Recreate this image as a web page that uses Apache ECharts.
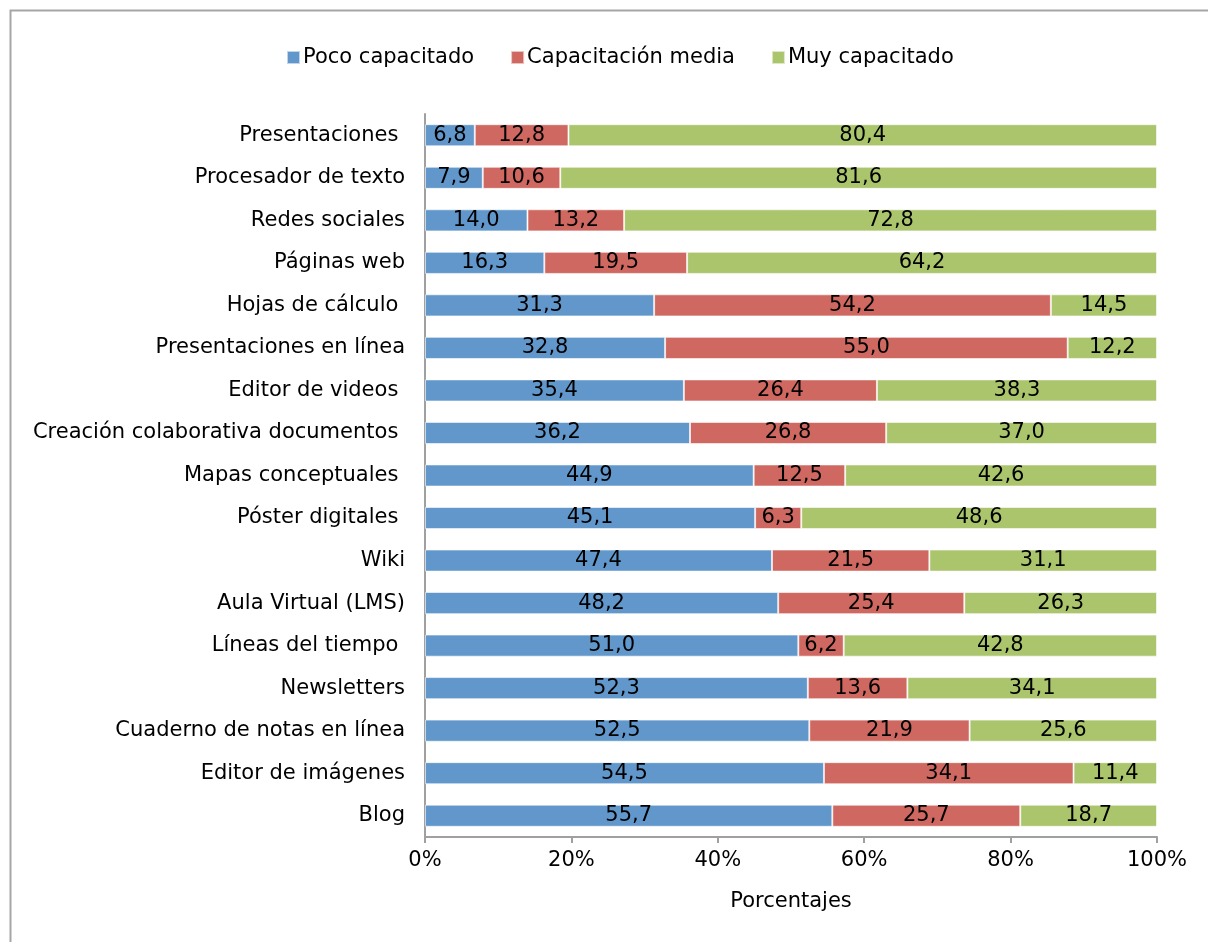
<!DOCTYPE html>
<html>
<head>
<meta charset="utf-8">
<script src="https://cdn.jsdelivr.net/npm/echarts@6/dist/echarts.min.js"></script>
<style>
  html, body { margin: 0; padding: 0; background: #fff; }
  #chart { width: 1208px; height: 942px; }
</style>
</head>
<body>
<div id="chart"></div>
<script>
// categorías, de arriba a abajo (algunas llevan un espacio final como en el original)
const categorias = [
  'Presentaciones ', 'Procesador de texto', 'Redes sociales', 'Páginas web',
  'Hojas de cálculo ', 'Presentaciones en línea', 'Editor de videos ',
  'Creación colaborativa documentos ', 'Mapas conceptuales ', 'Póster digitales ',
  'Wiki', 'Aula Virtual (LMS)', 'Líneas del tiempo ', 'Newsletters',
  'Cuaderno de notas en línea', 'Editor de imágenes', 'Blog'
];
const pocoCapacitado = [6.8, 7.9, 14.0, 16.3, 31.3, 32.8, 35.4, 36.2, 44.9, 45.1, 47.4, 48.2, 51.0, 52.3, 52.5, 54.5, 55.7];
const capacitacionMedia = [12.8, 10.6, 13.2, 19.5, 54.2, 55.0, 26.4, 26.8, 12.5, 6.3, 21.5, 25.4, 6.2, 13.6, 21.9, 34.1, 25.7];
const muyCapacitado = [80.4, 81.6, 72.8, 64.2, 14.5, 12.2, 38.3, 37.0, 42.6, 48.6, 31.1, 26.3, 42.8, 34.1, 25.6, 11.4, 18.7];
const ticks = ['0%', '20%', '40%', '60%', '80%', '100%'];

const seriesNames = ['Poco capacitado', 'Capacitación media', 'Muy capacitado'];
const colores = ['#6197cb', '#cf6860', '#abc56d'];
const valores = [pocoCapacitado, capacitacionMedia, muyCapacitado];

// 100% apilado: se normaliza cada fila, la etiqueta muestra el valor original
const totales = categorias.map((c, i) => pocoCapacitado[i] + capacitacionMedia[i] + muyCapacitado[i]);

const fuente = 'DejaVu Sans';
const tam = 21;
const chart = echarts.init(document.getElementById('chart'));

chart.setOption({
  animation: false,
  textStyle: { fontFamily: fuente },
  graphic: [{
    type: 'rect',
    shape: { x: 10.5, y: 10.5, width: 1300, height: 1000 },
    style: { fill: 'none', stroke: '#a6a6a6', lineWidth: 2 }
  }],
  legend: {
    top: 42,
    left: 281,
    itemWidth: 13,
    itemHeight: 13,
    itemGap: 36,
    icon: 'rect',
    textStyle: { fontSize: tam, color: '#000', fontFamily: fuente, padding: [0, 0, 0, -2] },
    data: seriesNames
  },
  grid: {
    left: 425,
    right: 51,
    top: 114,
    bottom: 105,
    containLabel: false
  },
  xAxis: {
    type: 'value',
    min: 0,
    max: 100,
    interval: 20,
    name: 'Porcentajes',
    nameLocation: 'middle',
    nameGap: 54,
    nameTextStyle: { fontSize: tam, color: '#000', fontFamily: fuente },
    axisLine: { show: true, lineStyle: { color: '#a0a0a0', width: 2 } },
    axisTick: { show: true, length: 6, lineStyle: { color: '#a0a0a0', width: 2 } },
    splitLine: { show: false },
    axisLabel: {
      fontSize: tam, color: '#000', margin: 13, fontFamily: fuente,
      formatter: v => ticks[Math.round(v / 20)]
    }
  },
  yAxis: {
    type: 'category',
    inverse: true,
    data: categorias,
    axisLine: { show: true, lineStyle: { color: '#a0a0a0', width: 2 } },
    axisTick: { show: false },
    axisLabel: { fontSize: tam, color: '#000', margin: 20, fontFamily: fuente }
  },
  series: valores.map((arr, k) => ({
    name: seriesNames[k],
    type: 'bar',
    stack: 'total',
    barWidth: '52%',
    itemStyle: { color: colores[k], borderColor: 'rgba(255,255,255,0.6)', borderWidth: 1 },
    label: {
      show: true,
      position: 'inside',
      color: '#000',
      fontSize: tam,
      fontFamily: fuente,
      formatter: p => arr[p.dataIndex].toFixed(1).replace('.', ',')
    },
    data: arr.map((v, i) => v / totales[i] * 100)
  }))
});
</script>
</body>
</html>
